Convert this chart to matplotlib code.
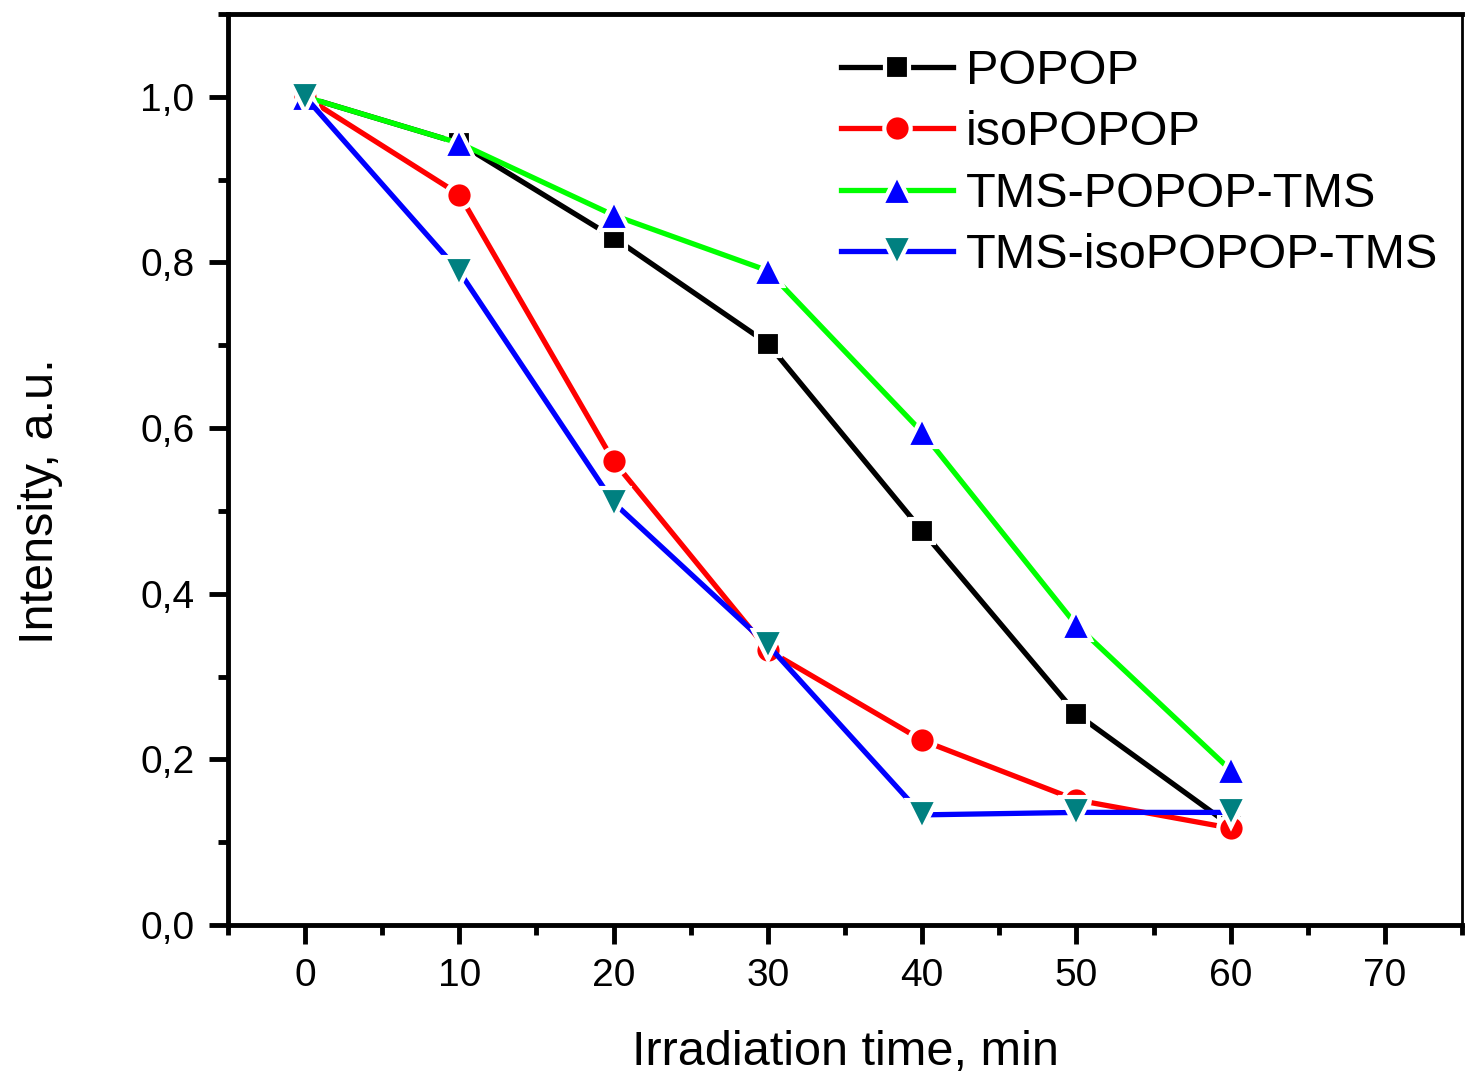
import matplotlib.pyplot as plt
from matplotlib.ticker import MultipleLocator

plt.rcParams['font.family'] = ['Liberation Sans', 'DejaVu Sans']

time_min = [0, 10, 20, 30, 40, 50, 60]
popop = [1.0, 0.944, 0.830, 0.702, 0.476, 0.255, 0.120]
iso_popop = [1.0, 0.882, 0.560, 0.332, 0.223, 0.151, 0.117]
tms_popop_tms = [1.0, 0.944, 0.857, 0.790, 0.595, 0.362, 0.187]
tms_iso_popop_tms = [1.0, 0.789, 0.510, 0.338, 0.133, 0.136, 0.136]

series = [
    (popop, 'POPOP', 'black', 's', 'black', 17),
    (iso_popop, 'isoPOPOP', 'red', 'o', 'red', 19),
    (tms_popop_tms, 'TMS-POPOP-TMS', '#00FF00', '^', '#0000FF', 21),
    (tms_iso_popop_tms, 'TMS-isoPOPOP-TMS', '#0000FF', 'v', '#008080', 21),
]

f = plt.figure(figsize=(14.65, 10.75), dpi=100)
ax = f.add_axes([0.1556, 0.1395, 0.8424, 0.8475])

for vals, name, lc, mk, mc, ms in series:
    ax.plot(time_min, vals, color=lc, lw=3.8, marker=mk, markersize=ms,
            markerfacecolor=mc, markeredgecolor='white', markeredgewidth=3,
            label=name)

ax.set_xlim(-5, 75)
ax.set_ylim(0, 1.1)
ax.xaxis.set_major_locator(MultipleLocator(10))
ax.xaxis.set_minor_locator(MultipleLocator(5))
ax.yaxis.set_minor_locator(MultipleLocator(0.1))
ax.set_yticks([0, 0.2, 0.4, 0.6, 0.8, 1.0])
ax.set_yticklabels(['0,0', '0,2', '0,4', '0,6', '0,8', '1,0'])

ax.tick_params(which='major', direction='out', length=14, width=3.5,
               labelsize=28, pad=10, top=False, right=False)
ax.tick_params(which='minor', direction='out', length=7, width=3.5,
               top=False, right=False)

for side in ['left', 'bottom', 'top']:
    ax.spines[side].set_linewidth(3.5)
ax.spines['right'].set_linewidth(2)

ax.set_xlabel('Irradiation time, min', fontsize=35, labelpad=26)
ax.set_ylabel('Intensity, a.u.', fontsize=35)
ax.yaxis.set_label_coords(-0.134, 0.465)

leg = ax.legend(loc='upper left', frameon=False, fontsize=35, handlelength=2.3,
                handletextpad=0.27, labelspacing=0.34, borderaxespad=0,
                bbox_to_anchor=(0.497, 0.962), borderpad=0)

f.savefig('out.png', dpi=100)
